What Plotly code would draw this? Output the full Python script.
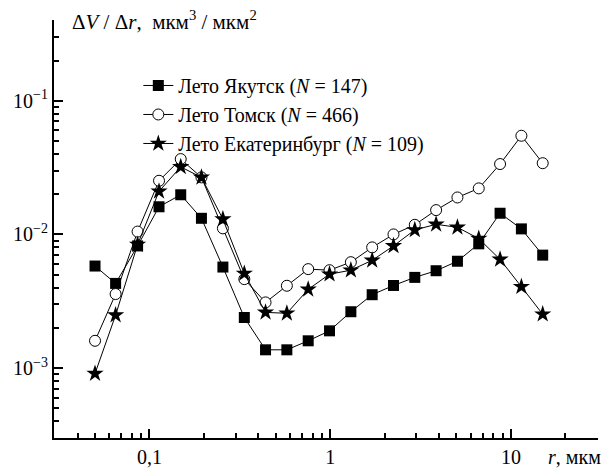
import plotly.graph_objects as go

# AERONET radius bins, µm
radius = [0.050, 0.065, 0.086, 0.113, 0.149, 0.194, 0.255, 0.335, 0.439, 0.576, 0.756,
          0.992, 1.302, 1.708, 2.241, 2.940, 3.857, 5.061, 6.641, 8.713, 11.432, 15.000]

yakutsk = [5.8e-3, 4.3e-3, 8.2e-3, 1.61e-2, 1.98e-2, 1.32e-2, 5.7e-3, 2.39e-3, 1.37e-3, 1.37e-3, 1.6e-3,
           1.9e-3, 2.64e-3, 3.54e-3, 4.15e-3, 4.77e-3, 5.35e-3, 6.3e-3, 8.5e-3, 1.44e-2, 1.10e-2, 7.0e-3]
tomsk = [1.6e-3, 3.58e-3, 1.05e-2, 2.52e-2, 3.66e-2, 2.67e-2, 1.11e-2, 4.63e-3, 3.10e-3, 4.13e-3, 5.5e-3,
         5.4e-3, 6.2e-3, 8.0e-3, 1.0e-2, 1.18e-2, 1.52e-2, 1.89e-2, 2.21e-2, 3.36e-2, 5.47e-2, 3.41e-2]
ekb = [9.1e-4, 2.49e-3, 8.4e-3, 2.1e-2, 3.2e-2, 2.67e-2, 1.30e-2, 5.1e-3, 2.61e-3, 2.57e-3, 3.88e-3,
       5.04e-3, 5.4e-3, 6.4e-3, 8.2e-3, 1.08e-2, 1.19e-2, 1.13e-2, 9.3e-3, 6.5e-3, 4.06e-3, 2.53e-3]

names = ["Лето Якутск (<i>N</i> = 147)", "Лето Томск (<i>N</i> = 466)", "Лето Екатеринбург (<i>N</i> = 109)"]

x_tickvals = [0.1, 1, 10]
x_ticktext = ["0,1", "1", "10"]
y_tickvals = [1e-3, 1e-2, 1e-1]
y_ticktext = ["10<sup>−3</sup>", "10<sup>−2</sup>", "10<sup>−1</sup>"]

x_minor = [0.03, 0.04, 0.05, 0.06, 0.07, 0.08, 0.09, 0.2, 0.3, 0.4, 0.5, 0.6, 0.7, 0.8, 0.9,
           2, 3, 4, 5, 6, 7, 8, 9, 20, 30]
y_minor = [3e-4, 4e-4, 5e-4, 6e-4, 7e-4, 8e-4, 9e-4, 2e-3, 3e-3, 4e-3, 5e-3, 6e-3, 7e-3, 8e-3, 9e-3,
           2e-2, 3e-2, 4e-2, 5e-2, 6e-2, 7e-2, 8e-2, 9e-2, 0.2, 0.3, 0.4]

X_RANGE = [-1.528, 1.482]
Y_RANGE = [-3.523, -0.396]

FONT = "Liberation Serif"

fig = go.Figure()
fig.add_trace(go.Scatter(x=radius, y=yakutsk, name=names[0], mode="lines+markers",
                         line=dict(color="black", width=1),
                         marker=dict(symbol="square", size=11, color="black")))
fig.add_trace(go.Scatter(x=radius, y=tomsk, name=names[1], mode="lines+markers",
                         line=dict(color="black", width=1),
                         marker=dict(symbol="circle", size=11, color="white",
                                     line=dict(color="black", width=1))))
fig.add_trace(go.Scatter(x=radius, y=ekb, name=names[2], mode="lines+markers",
                         line=dict(color="black", width=1),
                         marker=dict(symbol="star", size=13, color="black")))

axis_common = dict(showgrid=False, zeroline=False, showline=True, linecolor="black", linewidth=2,
                   ticks="inside", ticklen=9, tickwidth=1.8, tickcolor="black", automargin=False,
                   tickfont=dict(family=FONT, size=20, color="black"))
minor_common = dict(tickmode="array", ticks="inside", ticklen=5, tickwidth=1.5,
                    tickcolor="black", showgrid=False)

fig.update_layout(
    xaxis=dict(type="log", range=X_RANGE, tickmode="array", tickvals=x_tickvals,
               ticktext=x_ticktext, minor=dict(tickvals=x_minor, **minor_common),
               **axis_common),
    yaxis=dict(type="log", range=Y_RANGE, tickmode="array", tickvals=y_tickvals,
               ticktext=y_ticktext, minor=dict(tickvals=y_minor, **minor_common),
               **axis_common),
)

fig.add_annotation(xref="paper", yref="paper", x=0.03, y=1.0, xanchor="left", yanchor="middle",
                   text="Δ<i>V</i> / Δ<i>r</i>,  мкм<sup>3</sup> / мкм<sup>2</sup>", showarrow=False,
                   font=dict(family=FONT, size=21, color="black"))
fig.add_annotation(xref="paper", yref="paper", x=1.0, y=0, xanchor="right", yanchor="middle",
                   yshift=-19, xshift=5,
                   text="<i>r</i>, мкм", showarrow=False,
                   font=dict(family=FONT, size=20, color="black"))

fig.update_layout(width=601, height=471, margin=dict(l=54, r=3, t=20, b=33),
                  paper_bgcolor="white", plot_bgcolor="white",
                  legend=dict(x=0.155, y=0.89, xanchor="left", yanchor="top",
                              font=dict(family=FONT, size=20, color="black"),
                              bgcolor="rgba(0,0,0,0)", tracegroupgap=0, itemwidth=30),
                  showlegend=True)

fig.write_html("out.html")
